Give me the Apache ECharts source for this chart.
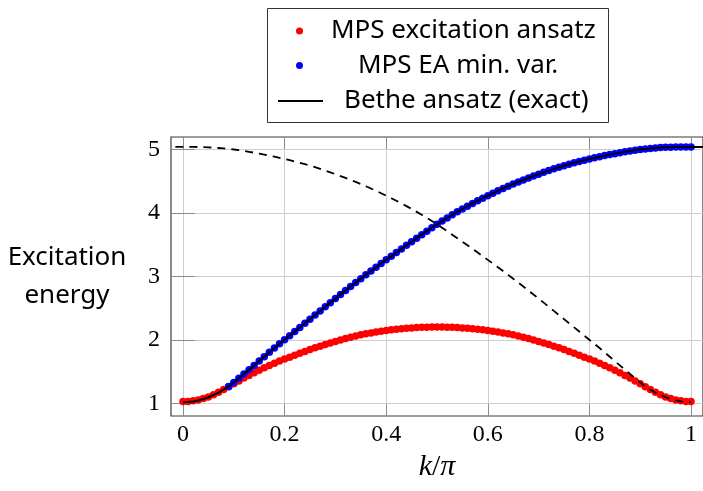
<!DOCTYPE html>
<html><head><meta charset="utf-8">
<script src="https://cdn.jsdelivr.net/npm/echarts@6/dist/echarts.min.js"></script>
<style>html,body{margin:0;padding:0;background:#fff}#c{width:703px;height:491px}</style>
</head><body><div id="c"></div>
<script>
const kVals = [0,0.01,0.02,0.03,0.04,0.05,0.06,0.07,0.08,0.09,0.10,0.11,0.12,0.13,0.14,0.15,0.16,0.17,0.18,0.19,0.20,0.21,0.22,0.23,0.24,0.25,0.26,0.27,0.28,0.29,0.30,0.31,0.32,0.33,0.34,0.35,0.36,0.37,0.38,0.39,0.40,0.41,0.42,0.43,0.44,0.45,0.46,0.47,0.48,0.49,0.50,0.51,0.52,0.53,0.54,0.55,0.56,0.57,0.58,0.59,0.60,0.61,0.62,0.63,0.64,0.65,0.66,0.67,0.68,0.69,0.70,0.71,0.72,0.73,0.74,0.75,0.76,0.77,0.78,0.79,0.80,0.81,0.82,0.83,0.84,0.85,0.86,0.87,0.88,0.89,0.90,0.91,0.92,0.93,0.94,0.95,0.96,0.97,0.98,0.99,1.00];
const betheExact = [1.020,1.023,1.032,1.048,1.070,1.098,1.132,1.172,1.218,1.268,1.330,1.396,1.465,1.532,1.600,1.668,1.737,1.806,1.874,1.940,2.003,2.068,2.133,2.198,2.263,2.328,2.393,2.458,2.523,2.588,2.652,2.716,2.779,2.842,2.904,2.965,3.026,3.086,3.145,3.204,3.262,3.320,3.378,3.435,3.492,3.548,3.604,3.659,3.714,3.768,3.822,3.873,3.923,3.971,4.018,4.064,4.108,4.151,4.193,4.233,4.272,4.311,4.349,4.386,4.422,4.456,4.489,4.521,4.552,4.582,4.611,4.640,4.668,4.695,4.721,4.745,4.768,4.790,4.811,4.831,4.850,4.869,4.887,4.904,4.920,4.935,4.950,4.964,4.977,4.989,5.000,5.009,5.017,5.024,5.030,5.034,5.037,5.039,5.040,5.040,5.040];
const betheMirror = [5.040,5.040,5.040,5.039,5.037,5.034,5.030,5.024,5.017,5.009,5.000,4.989,4.977,4.964,4.950,4.935,4.920,4.904,4.887,4.869,4.850,4.831,4.811,4.790,4.768,4.745,4.721,4.695,4.668,4.640,4.611,4.582,4.552,4.521,4.489,4.456,4.422,4.386,4.349,4.311,4.272,4.233,4.193,4.151,4.108,4.064,4.018,3.971,3.923,3.873,3.822,3.768,3.714,3.659,3.604,3.548,3.492,3.435,3.378,3.320,3.262,3.204,3.145,3.086,3.026,2.965,2.904,2.842,2.779,2.716,2.652,2.588,2.523,2.458,2.393,2.328,2.263,2.198,2.133,2.068,2.003,1.940,1.874,1.806,1.737,1.668,1.600,1.532,1.465,1.396,1.330,1.268,1.218,1.172,1.132,1.098,1.070,1.048,1.032,1.023,1.020];
const mpsExcitation = [1.030,1.033,1.042,1.056,1.077,1.104,1.137,1.176,1.220,1.265,1.310,1.355,1.400,1.440,1.485,1.525,1.563,1.600,1.635,1.668,1.700,1.730,1.760,1.790,1.820,1.850,1.877,1.903,1.929,1.954,1.978,2.001,2.023,2.044,2.063,2.081,2.097,2.112,2.126,2.139,2.150,2.160,2.169,2.177,2.184,2.190,2.195,2.199,2.202,2.204,2.205,2.204,2.202,2.199,2.195,2.190,2.184,2.177,2.169,2.160,2.150,2.139,2.126,2.112,2.097,2.081,2.063,2.044,2.023,2.001,1.978,1.954,1.929,1.903,1.877,1.850,1.820,1.790,1.760,1.730,1.700,1.668,1.635,1.600,1.563,1.525,1.485,1.440,1.400,1.355,1.310,1.265,1.220,1.176,1.137,1.104,1.077,1.056,1.042,1.033,1.030];
const blueStartIndex = 9;
const mpsEAminVar = [1.268,1.330,1.396,1.465,1.532,1.600,1.668,1.737,1.806,1.874,1.940,2.003,2.068,2.133,2.198,2.263,2.328,2.393,2.458,2.523,2.588,2.652,2.716,2.779,2.842,2.904,2.965,3.026,3.086,3.145,3.204,3.262,3.320,3.378,3.435,3.492,3.548,3.604,3.659,3.714,3.768,3.822,3.873,3.923,3.971,4.018,4.064,4.108,4.151,4.193,4.233,4.272,4.311,4.349,4.386,4.422,4.456,4.489,4.521,4.552,4.582,4.611,4.640,4.668,4.695,4.721,4.745,4.768,4.790,4.811,4.831,4.850,4.869,4.887,4.904,4.920,4.935,4.950,4.964,4.977,4.989,5.000,5.009,5.017,5.024,5.030,5.034,5.037,5.039,5.040,5.040,5.040];
const mirrorLeftPoint = [-0.015, 5.040];
const exactRightPoint = [1.024, 5.040];
const xTicks = [0, 0.2, 0.4, 0.6, 0.8, 1];
const xTickLabels = ['0', '0.2', '0.4', '0.6', '0.8', '1'];
const yTicks = [1, 2, 3, 4, 5];
const yTickLabels = ['1', '2', '3', '4', '5'];
const seriesNames = ['MPS excitation ansatz', 'MPS EA min. var.', 'Bethe ansatz (exact)'];
const xRange = [-0.0236, 1.0236];
const yRange = [0.803, 5.197];

const chart = echarts.init(document.getElementById('c'), null, {renderer: 'canvas'});
const tickStyle = {show: true, inside: true, length: 12, lineStyle: {color: '#8c8c8c', width: 1}};
const gridLine = {show: true, lineStyle: {color: '#cfcfcf', width: 1}};
const serif = 'Liberation Serif';
const sans = 'Noto Sans';
const lab = (arr, labels) => (v) => { const i = arr.findIndex(t => Math.abs(t - v) < 1e-9); return i >= 0 ? labels[i] : ''; };

const legendBase = (name, left, top, pad, h, extra) => Object.assign({
  data: [name], left: left, top: top, orient: 'horizontal', padding: 0, itemGap: 0,
  itemWidth: 45, itemHeight: h, selectedMode: false,
  textStyle: {fontFamily: sans, fontSize: 26, color: '#000', padding: [0, 0, 0, pad]}
}, extra || {});

chart.setOption({
  animation: false,
  backgroundColor: '#fff',
  grid: {left: 171, top: 137, width: 533, height: 279, show: true, borderColor: '#3a3a3a', borderWidth: 1.2, containLabel: false},
  graphic: [{type: 'rect', shape: {x: 267.5, y: 8.5, width: 341, height: 114}, style: {fill: 'none', stroke: '#333', lineWidth: 1}, z: 100}],
  legend: [
    legendBase(seriesNames[0], 296, 18, 4, 7),
    legendBase(seriesNames[1], 296, 52.5, 31, 7),
    legendBase(seriesNames[2], 277, 88, 16, 14, {itemStyle: {color: 'rgba(0,0,0,0)', borderColor: 'rgba(0,0,0,0)', borderWidth: 0, opacity: 0}})
  ],
  xAxis: [{
    type: 'value', min: xRange[0], max: xRange[1], position: 'bottom',
    axisLine: {show: false},
    axisTick: Object.assign({customValues: xTicks}, tickStyle),
    axisLabel: {customValues: xTicks, formatter: lab(xTicks, xTickLabels), fontFamily: serif, fontSize: 24, color: '#000', margin: 7},
    splitLine: gridLine,
    name: '{i|k}/{i|π}', nameLocation: 'middle', nameGap: 49,
    nameTextStyle: {fontFamily: serif, fontSize: 30, color: '#000', verticalAlign: 'middle', rich: {i: {fontFamily: serif, fontStyle: 'italic', fontSize: 30, color: '#000'}}}
  }, {
    type: 'value', min: xRange[0], max: xRange[1], position: 'top',
    axisLine: {show: false},
    axisTick: Object.assign({customValues: xTicks}, tickStyle),
    axisLabel: {show: false}, splitLine: {show: false}
  }],
  yAxis: [{
    type: 'value', min: yRange[0], max: yRange[1], position: 'left',
    axisLine: {show: false},
    axisTick: Object.assign({customValues: yTicks}, tickStyle),
    axisLabel: {customValues: yTicks, formatter: lab(yTicks, yTickLabels), fontFamily: serif, fontSize: 24, color: '#000', margin: 11},
    splitLine: gridLine,
    name: 'Excitation\nenergy', nameLocation: 'middle', nameGap: 104, nameRotate: 0,
    nameTextStyle: {fontFamily: sans, fontSize: 26, color: '#000', align: 'center', verticalAlign: 'middle', lineHeight: 38}
  }, {
    type: 'value', min: yRange[0], max: yRange[1], position: 'right',
    axisLine: {show: false},
    axisTick: Object.assign({customValues: yTicks}, tickStyle),
    axisLabel: {show: false}, splitLine: {show: false}
  }],
  series: [
    {name: seriesNames[0], type: 'scatter', symbol: 'circle', symbolSize: 7.5,
     itemStyle: {color: '#ff0000', opacity: 1},
     data: kVals.map((k, i) => [k, mpsExcitation[i]]), z: 2},
    {name: seriesNames[1], type: 'scatter', symbol: 'circle', symbolSize: 7.5,
     itemStyle: {color: '#0000ff', opacity: 1},
     data: kVals.slice(blueStartIndex).map((k, i) => [k, mpsEAminVar[i]]), z: 2},
    {name: seriesNames[2], type: 'line', symbol: 'none', showSymbol: false,
     lineStyle: {color: '#000', width: 2}, itemStyle: {color: '#000'},
     data: kVals.map((k, i) => [k, betheExact[i]]).concat([exactRightPoint]), z: 3},
    {name: 'mirror', type: 'line', symbol: 'none', showSymbol: false,
     lineStyle: {color: '#000', width: 1.8, type: [8, 6]},
     data: [mirrorLeftPoint].concat(kVals.map((k, i) => [k, betheMirror[i]])), z: 3}
  ]
});
</script></body></html>
